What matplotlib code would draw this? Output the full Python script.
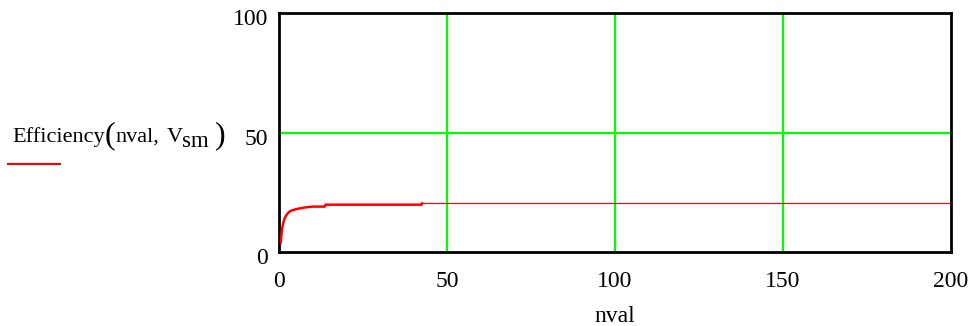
import matplotlib
matplotlib.use("Agg")
import matplotlib.pyplot as plt
import matplotlib.transforms as mtransforms

plt.rcParams['font.family'] = ['Liberation Serif', 'DejaVu Serif']

nval = [0.5, 0.7, 0.9, 1.3, 1.7, 2.2, 2.7, 3.3, 4.0, 5.0, 6.0, 8.0, 10.0, 13.6, 13.8, 42.4, 42.6]
eff = [4.0, 7.5, 9.8, 12.5, 14.3, 15.5, 16.4, 17.1, 17.5, 17.9, 18.2, 18.7, 19.0, 19.0, 19.8, 19.8, 20.3]
nval_tail = [42.6, 200.0]
eff_tail = [20.3, 20.3]

xticks = [0, 50, 100, 150, 200]
yticks = [0, 50, 100]

W, H = 976, 326
fig = plt.figure(figsize=(W / 100, H / 100), dpi=100)
ax = fig.add_axes([0.286, 0.227, 0.688, 0.733])

for x in xticks[1:-1]:
    ax.axvline(x, color='#00ff00', lw=1.6, zorder=1)
for y in yticks[1:-1]:
    ax.axhline(y, color='#00ff00', lw=1.6, zorder=1)

ax.plot(nval, eff, color='red', lw=1.8, zorder=3)
ax.plot(nval_tail, eff_tail, color='red', lw=0.8, zorder=3)

ax.set_xlim(0, 200)
ax.set_ylim(0, 100)
ax.set_xticks(xticks)
ax.set_yticks(yticks)
ax.tick_params(length=0, labelsize=17)
ax.tick_params(axis='x', pad=14)
ax.tick_params(axis='y', pad=8)
shift = mtransforms.ScaledTranslation(0, -4 / 100, fig.dpi_scale_trans)
for lab in ax.get_yticklabels():
    lab.set_transform(lab.get_transform() + shift)
for s in ax.spines.values():
    s.set_linewidth(2)
    s.set_color('black')

ax.set_xlabel('nval', fontsize=17, labelpad=10)


# Mathcad-style trace label, piece by piece (pixel positions from the top-left)
def put(txt, px, py, size):
    fig.text(px / W, 1 - py / H, txt, fontsize=size, ha='left', va='baseline')


put('Efficiency', 12, 141.5, 16)
put('(', 105, 143, 23)
put('nval,', 115, 141.5, 16)
put('V', 167, 141.5, 16)
put('sm', 182, 147, 16.5)
put(')', 215, 143, 23)
fig.add_artist(plt.Line2D([8 / W, 60 / W], [1 - 164 / H, 1 - 164 / H], color='red', lw=1.5))

fig.savefig('out.png', dpi=100)
